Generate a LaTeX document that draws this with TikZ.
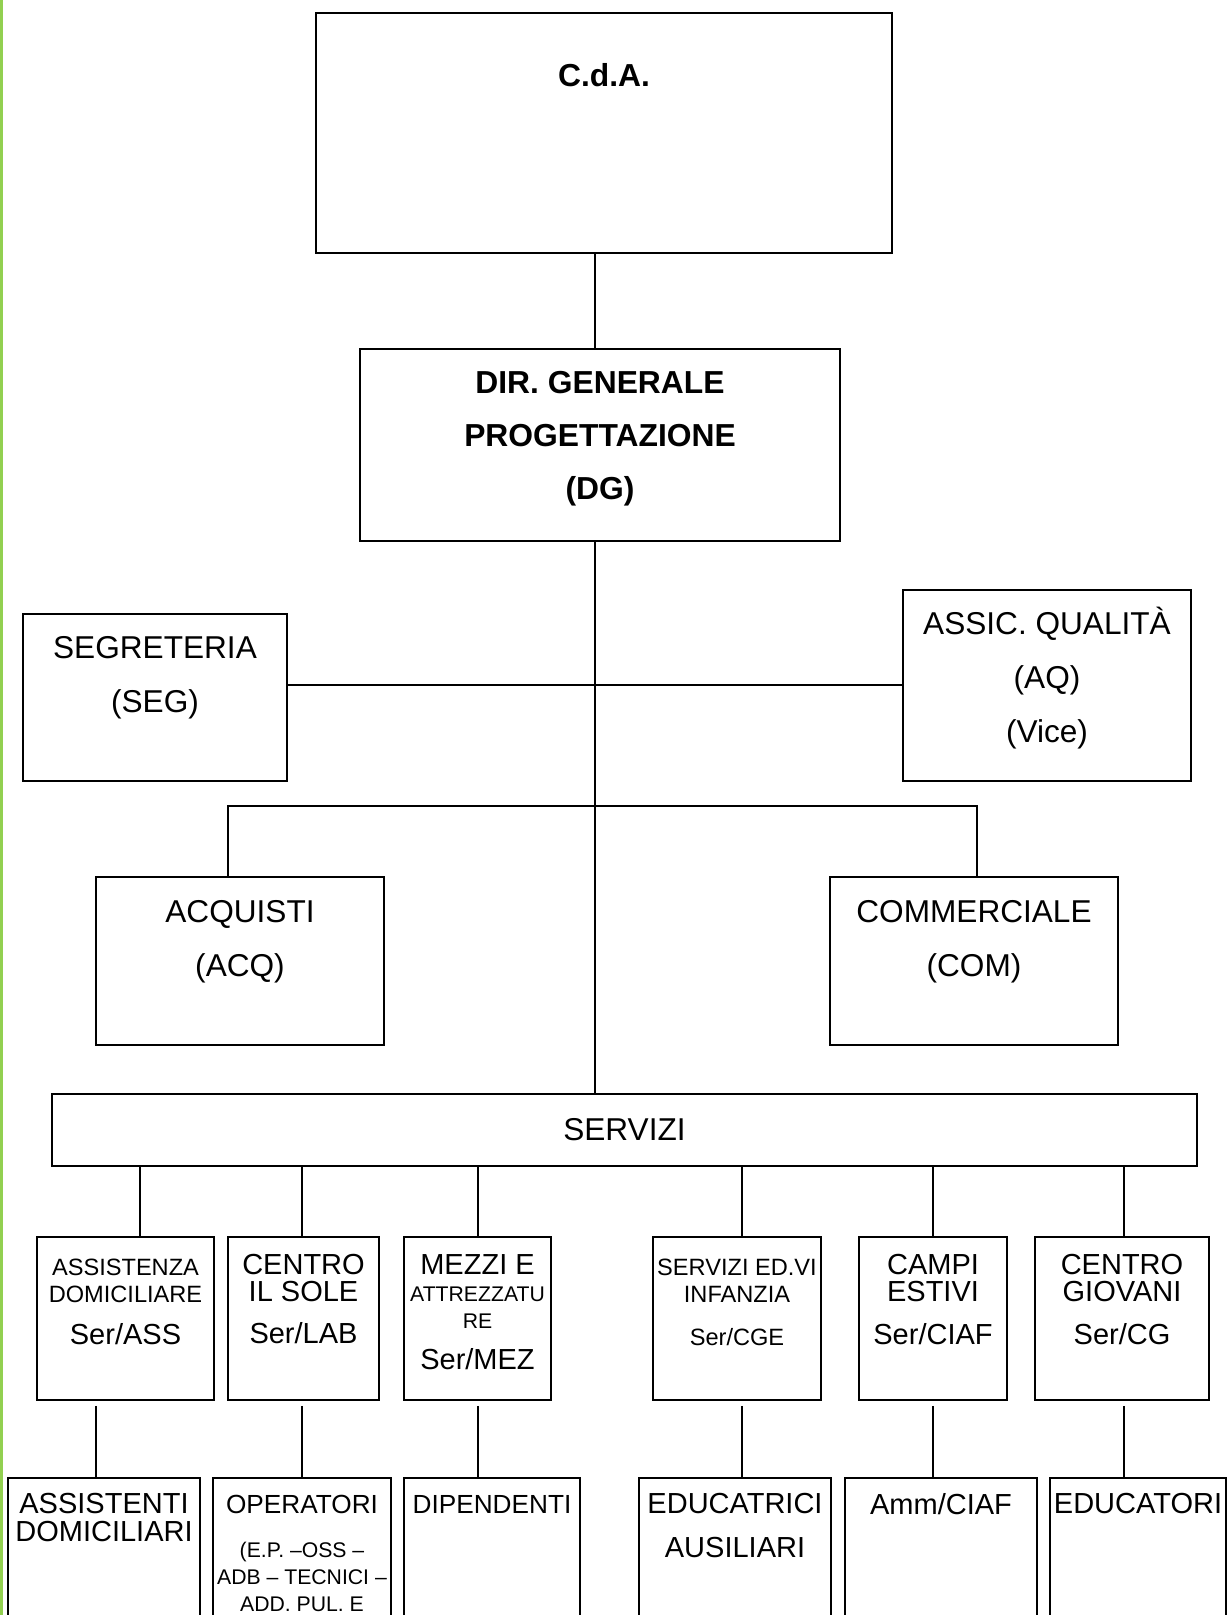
\documentclass[tikz,border=0pt]{standalone}
\usepackage{fontspec}
\setmainfont{Liberation Sans}
\usetikzlibrary{positioning}
\definecolor{sidegreen}{RGB}{146,208,80}
\newcommand{\orgmid}{\fontsize{13.1}{13.5}\selectfont}
\newcommand{\orgsmall}{\fontsize{11.8}{13.5}\selectfont}
\newcommand{\orgtiny}{\fontsize{10.6}{13.5}\selectfont}
\tikzset{
    org-box/.style = {draw, line width=0.8pt, rectangle, inner sep=0pt},
    org-line/.style = {draw, line width=0.6pt},
    box-text/.style = {align=center, inner sep=0pt},
    title-text/.style = {box-text, font=\bfseries\fontsize{15.9}{26.5}\selectfont},
    main-text/.style = {box-text, font=\fontsize{15.8}{27}\selectfont},
    unit-text/.style = {box-text, font=\fontsize{14.5}{13.5}\selectfont},
}
\begin{document}
\begin{tikzpicture}[x=0.5pt, y=-0.5pt]
\useasboundingbox (0,0) rectangle (1227,1615);
\clip (0,0) rectangle (1227,1615);
\fill[sidegreen] (0,0) rectangle (2.5,1615);

\node[org-box, minimum width=288pt, minimum height=120pt] (cda) at (604,133) {};
\node[title-text, below=25.5pt] (cda-txt) at (cda.north) {C.d.A.};
\node[org-box, minimum width=240pt, minimum height=96pt] (dg) at (600,445) {};
\node[title-text, below=11.5pt] (dg-txt) at (dg.north) {DIR. GENERALE\\PROGETTAZIONE\\(DG)};
\node[org-box, minimum width=132pt, minimum height=83.5pt] (seg) at (155,697.5) {};
\node[main-text, below=11.5pt] (seg-txt) at (seg.north) {SEGRETERIA\\(SEG)};
\node[org-box, minimum width=144pt, minimum height=95.5pt] (aq) at (1047,685.5) {};
\node[main-text, below=8.5pt] (aq-txt) at (aq.north) {ASSIC. QUALITÀ\\(AQ)\\(Vice)};
\node[org-box, minimum width=144pt, minimum height=84pt] (acq) at (240,961) {};
\node[main-text, below=12pt] (acq-txt) at (acq.north) {ACQUISTI\\(ACQ)};
\node[org-box, minimum width=144pt, minimum height=84pt] (com) at (974,961) {};
\node[main-text, below=12pt] (com-txt) at (com.north) {COMMERCIALE\\(COM)};
\node[org-box, main-text, minimum width=572.5pt, minimum height=36pt] (serv) at (624.5,1130) {SERVIZI};

\node[org-box, minimum width=88.5pt, minimum height=81.5pt] (ass) at (125.5,1318.5) {};
\node[unit-text, below=11pt] (ass-txt) at (ass.north) {\orgsmall ASSISTENZA\\\orgsmall DOMICILIARE\\[7.5pt]Ser/ASS};
\node[org-box, minimum width=75.5pt, minimum height=81.5pt] (lab) at (303.5,1318.5) {};
\node[unit-text, below=9pt] (lab-txt) at (lab.north) {CENTRO\\IL SOLE\\[7.5pt]Ser/LAB};
\node[org-box, minimum width=73.5pt, minimum height=81.5pt] (mez) at (477.5,1318.5) {};
\node[unit-text, below=9pt] (mez-txt) at (mez.north) {MEZZI E\\\orgtiny ATTREZZATU\\\orgtiny RE\\[7pt]Ser/MEZ};
\node[org-box, minimum width=84pt, minimum height=81.5pt] (cge) at (737,1318.5) {};
\node[unit-text, below=11pt] (cge-txt) at (cge.north) {\orgsmall SERVIZI ED.VI\\\orgsmall INFANZIA\\[8pt]\orgsmall Ser/CGE};
\node[org-box, minimum width=74pt, minimum height=81.5pt] (ciaf) at (933,1318.5) {};
\node[unit-text, below=9pt] (ciaf-txt) at (ciaf.north) {CAMPI\\ESTIVI\\[8pt]Ser/CIAF};
\node[org-box, minimum width=87pt, minimum height=81.5pt] (cg) at (1122,1318.5) {};
\node[unit-text, below=9pt] (cg-txt) at (cg.north) {CENTRO\\GIOVANI\\[8pt]Ser/CG};

\node[org-box, minimum width=96pt, minimum height=115pt] (asd) at (104,1593) {};
\node[unit-text, below=8pt] (asd-txt) at (asd.north) {ASSISTENTI\\[0.5pt]DOMICILIARI};
\node[org-box, minimum width=88.75pt, minimum height=115pt] (ope) at (302,1593) {};
\node[unit-text, below=9pt] (ope-txt) at (ope.north) {\orgmid OPERATORI\\[8.5pt]\orgtiny (E.P. –OSS –\\\orgtiny ADB – TECNICI –\\\orgtiny ADD. PUL. E};
\node[org-box, minimum width=88pt, minimum height=115pt] (dip) at (492,1593) {};
\node[unit-text, below=9pt] (dip-txt) at (dip.north) {\orgmid DIPENDENTI};
\node[org-box, minimum width=96pt, minimum height=115pt] (edu) at (735,1593) {};
\node[unit-text, below=8pt] (edu-txt) at (edu.north) {EDUCATRICI\\[8.5pt]AUSILIARI};
\node[org-box, minimum width=96pt, minimum height=115pt] (amm) at (941,1593) {};
\node[unit-text, below=8pt] (amm-txt) at (amm.north) {Amm/CIAF};
\node[org-box, minimum width=88pt, minimum height=115pt] (edr) at (1138,1593) {};
\node[unit-text, below=8pt] (edr-txt) at (edr.north) {EDUCATORI};

\coordinate (trunk) at (595,0);
\coordinate (staff-row) at (0,685);
\coordinate (acq-tap) at (228,806);
\coordinate (com-tap) at (977,806);
\coordinate (ass-tap) at (140,0);
\coordinate (asd-tap) at (96,0);
\coordinate (lab-tap) at (302,0);
\coordinate (mez-tap) at (478,0);
\coordinate (cge-tap) at (742,0);
\coordinate (ciaf-tap) at (933,0);
\coordinate (cg-tap) at (1124,0);

\draw[org-line] (cda.south -| trunk) -- (dg.north -| trunk);
\draw[org-line] (dg.south -| trunk) -- (serv.north -| trunk);
\draw[org-line] (seg.east |- staff-row) -- (aq.west |- staff-row);
\draw[org-line] (acq.north -| acq-tap) -- (acq-tap) -- (com-tap) -- (com.north -| com-tap);

\draw[org-line] (serv.south -| ass-tap) -- (ass.north -| ass-tap);
\draw[org-line] (serv.south -| lab-tap) -- (lab.north -| lab-tap);
\draw[org-line] (serv.south -| mez-tap) -- (mez.north -| mez-tap);
\draw[org-line] (serv.south -| cge-tap) -- (cge.north -| cge-tap);
\draw[org-line] (serv.south -| ciaf-tap) -- (ciaf.north -| ciaf-tap);
\draw[org-line] (serv.south -| cg-tap) -- (cg.north -| cg-tap);

\draw[org-line, shorten <=2.5pt] (ass.south -| asd-tap) -- (asd.north -| asd-tap);
\draw[org-line, shorten <=2.5pt] (lab.south -| lab-tap) -- (ope.north -| lab-tap);
\draw[org-line, shorten <=2.5pt] (mez.south -| mez-tap) -- (dip.north -| mez-tap);
\draw[org-line, shorten <=2.5pt] (cge.south -| cge-tap) -- (edu.north -| cge-tap);
\draw[org-line, shorten <=2.5pt] (ciaf.south -| ciaf-tap) -- (amm.north -| ciaf-tap);
\draw[org-line, shorten <=2.5pt] (cg.south -| cg-tap) -- (edr.north -| cg-tap);
\end{tikzpicture}
\end{document}
